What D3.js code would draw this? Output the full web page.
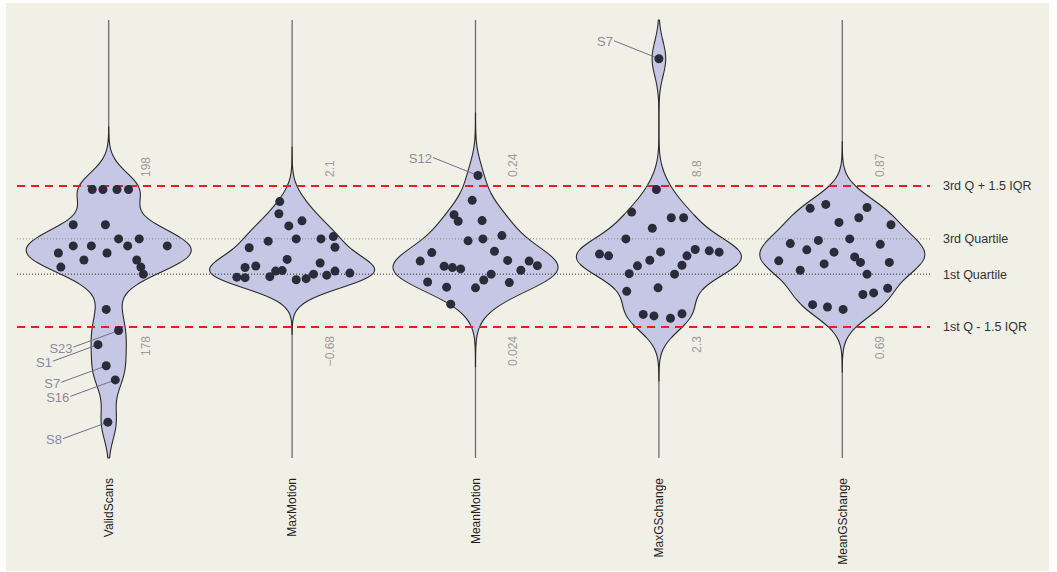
<!DOCTYPE html>
<html>
<head>
<meta charset="utf-8">
<script src="https://cdn.jsdelivr.net/npm/d3@7"></script>
<style>
  html, body { margin: 0; padding: 0; background: #ffffff; }
  svg { display: block; font-family: "Liberation Sans", Arial, sans-serif; }
</style>
</head>
<body>
<svg id="chart" width="1057" height="572"></svg>
<script>
// Subjects S1..S25; each metric array is indexed by subject.
const subjects = d3.range(1, 26).map(i => "S" + i);

const variables = ["ValidScans", "MaxMotion", "MeanMotion", "MaxGSchange", "MeanGSchange"];

const validScans = [175, 197, 192, 189, 188, 190, 172, 164, 197, 187, 189, 186, 197,
                    192, 190, 170, 189, 188, 197, 187, 189, 186, 177, 185, 180];
const maxMotion = [1.79, 1.55, 1.41, 1.31, 1.01, 1.055, 1.055, 1.10, 0.88, 0.89, 0.65, 0.58, 0.49,
                   0.52, 0.42, 0.43, 0.30, 0.29, 0.31, 0.25, 0.27, 0.36, 0.34, 0.42, 0.38];
const meanMotion = [0.117, 0.218, 0.196, 0.186, 0.187, 0.156, 0.159, 0.164, 0.138, 0.140, 0.125, 0.256, 0.115,
                    0.113, 0.126, 0.125, 0.118, 0.111, 0.105, 0.096, 0.093, 0.085, 0.084, 0.092, 0.059];
const maxGSchange = [6.36, 8.63, 7.59, 7.33, 7.33, 6.85, 14.64, 5.66, 5.58, 5.76, 5.87, 5.81, 5.75,
                     5.58, 5.38, 5.12, 5.15, 4.76, 4.74, 4.11, 3.95, 2.89, 2.82, 2.71, 2.92];
const meanGSchange = [0.841, 0.846, 0.842, 0.829, 0.823, 0.820, 0.800, 0.802, 0.796, 0.795, 0.788, 0.785, 0.774,
                      0.779, 0.772, 0.772, 0.770, 0.762, 0.757, 0.739, 0.733, 0.731, 0.718, 0.715, 0.712];

// Horizontal jitter of each dot, as a fraction of the violin half-width.
const validScansJitter = [-0.13, -0.20, -0.43, -0.43, -0.61, 0.12, -0.03, -0.01, -0.07, -0.30, -0.21, -0.58, 0.10,
                          -0.04, 0.37, 0.08, 0.23, -0.02, 0.24, 0.34, 0.71, 0.39, 0.12, 0.42, -0.03];
const maxMotionJitter = [-0.15, -0.16, 0.12, -0.04, -0.29, 0.05, 0.35, 0.50, -0.52, 0.52, -0.06, 0.34, -0.57,
                         -0.44, -0.20, -0.12, -0.67, -0.57, -0.27, 0.05, 0.17, 0.26, 0.42, 0.52, 0.70];
const meanMotionJitter = [-0.38, -0.04, -0.26, -0.21, 0.08, -0.09, 0.09, 0.32, -0.53, 0.23, -0.67, 0.03, -0.28,
                          -0.18, 0.39, 0.65, 0.75, 0.55, 0.19, 0.10, -0.58, -0.35, 0.00, 0.41, -0.30];
const maxGSchangeJitter = [-0.40, -0.03, -0.33, 0.15, 0.30, -0.08, 0.00, -0.72, -0.61, 0.02, 0.44, 0.61, 0.73,
                           0.34, -0.11, -0.26, 0.28, -0.36, 0.19, -0.01, -0.39, -0.19, -0.06, 0.14, 0.28];
const meanGSchangeJitter = [-0.39, -0.20, 0.30, 0.20, -0.04, 0.59, -0.29, 0.09, -0.63, 0.46, -0.43, -0.10, -0.77,
                            0.15, 0.22, 0.57, -0.22, -0.51, 0.30, 0.55, 0.38, 0.25, -0.36, -0.18, 0.01];

const seriesValues = [validScans, maxMotion, meanMotion, maxGSchange, meanGSchange];
const seriesJitter = [validScansJitter, maxMotionJitter, meanMotionJitter, maxGSchangeJitter, meanGSchangeJitter];

const legendLabels = ["3rd Q + 1.5 IQR", "3rd Quartile", "1st Quartile", "1st Q - 1.5 IQR"];

// ---- layout ----
const plotTop = 20, plotBottom = 458;
const fenceHiY = 186, fenceLoY = 327;     // every metric is rescaled so its fences land here
const lineX0 = 17, lineX1 = 930;
const halfWidth = 82.5;
const bwAdjust = 1.4;                     // smoothing factor on Silverman's bandwidth
const cut = 3.6;                          // density tails extend this many bandwidths

const svg = d3.select("#chart");

svg.append("rect")
  .attr("x", 6).attr("y", 3)
  .attr("width", 1043).attr("height", 568)
  .attr("fill", "#f1f0e6");

const x = d3.scalePoint().domain(variables).range([108.7, 842.3]);

// Per-metric statistics and scales
const fmt = v => Math.abs(v) >= 100 ? d3.format(".0f")(v) : d3.format(".2r")(v);

const stats = variables.map((name, i) => {
  const vals = seriesValues[i];
  const sorted = vals.slice().sort(d3.ascending);
  const q1 = d3.quantile(sorted, 0.25);
  const q3 = d3.quantile(sorted, 0.75);
  const iqr = q3 - q1;
  const lo = q1 - 1.5 * iqr, hi = q3 + 1.5 * iqr;
  const y = d3.scaleLinear().domain([lo, hi]).range([fenceLoY, fenceHiY]);
  return { name, vals, jitter: seriesJitter[i], q1, q3, iqr, lo, hi, y };
});

const q3Y = stats[0].y(stats[0].q3);
const q1Y = stats[0].y(stats[0].q1);

// ---- axis lines ----
svg.append("g").selectAll("line")
  .data(variables).join("line")
  .attr("x1", d => x(d)).attr("x2", d => x(d))
  .attr("y1", plotTop).attr("y2", plotBottom)
  .attr("stroke", "#6c6c6c").attr("stroke-width", 1.3);

// ---- violins (gaussian KDE) ----
const violinG = svg.append("g");
stats.forEach(s => {
  const px = s.vals.map(v => s.y(v));
  const n = px.length;
  const iqrPx = Math.abs(s.y(s.q1) - s.y(s.q3));
  const bw = bwAdjust * 0.9 * Math.min(d3.deviation(px), iqrPx / 1.34) * Math.pow(n, -0.2);
  const yMin = Math.max(plotTop, d3.min(px) - cut * bw);
  const yMax = Math.min(plotBottom, d3.max(px) + cut * bw);
  const grid = d3.range(yMin, yMax, 0.5).concat([yMax]);
  const dens = grid.map(g => [g, d3.sum(px, p => Math.exp(-0.5 * ((g - p) / bw) ** 2))]);
  const maxD = d3.max(dens, d => d[1]);
  const w = d3.scaleLinear().domain([0, maxD]).range([0, halfWidth]);
  const cx = x(s.name);
  const area = d3.area()
    .y(d => d[0])
    .x0(d => cx - w(d[1]))
    .x1(d => cx + w(d[1]))
    .curve(d3.curveLinear);
  violinG.append("path")
    .datum(dens)
    .attr("d", area)
    .attr("fill", "#c6c7e5")
    .attr("stroke", "#2a2a2a")
    .attr("stroke-width", 1.1)
    .attr("stroke-linejoin", "round");
});

// ---- reference lines ----
const refLines = [
  { y: fenceHiY, dash: "8,6", color: "#ee1c1c", width: 2 },
  { y: q3Y, dash: "1,2", color: "#8a8a8a", width: 1 },
  { y: q1Y, dash: "1,2", color: "#2a2a2a", width: 1 },
  { y: fenceLoY, dash: "8,6", color: "#ee1c1c", width: 2 }
];
const refG = svg.append("g");
refG.selectAll("line").data(refLines).join("line")
  .attr("x1", lineX0).attr("x2", lineX1)
  .attr("y1", d => d.y).attr("y2", d => d.y)
  .attr("stroke", d => d.color)
  .attr("stroke-width", d => d.width)
  .attr("stroke-dasharray", d => d.dash);

refG.selectAll("text").data(refLines).join("text")
  .attr("x", 943).attr("y", d => d.y)
  .attr("dy", "0.35em")
  .attr("font-size", 12.5)
  .attr("fill", "#333333")
  .text((d, i) => legendLabels[i]);

// ---- outlier labels with leader lines, then the dots ----
const labelG = svg.append("g");
const dotG = svg.append("g");
stats.forEach(s => {
  const cx = x(s.name);
  s.vals.forEach((v, j) => {
    const px = cx + s.jitter[j] * halfWidth;
    const py = s.y(v);
    if (v > s.hi || v < s.lo) {
      const above = v > s.hi;
      const ly = py + (above ? -17 : 17.5);
      const tx = px - 46;
      labelG.append("line")
        .attr("x1", tx + 1).attr("y1", ly - 1)
        .attr("x2", px).attr("y2", py)
        .attr("stroke", "#6f7089").attr("stroke-width", 1);
      labelG.append("text")
        .attr("x", tx).attr("y", ly)
        .attr("dy", "0.35em")
        .attr("text-anchor", "end")
        .attr("font-size", 13)
        .attr("fill", "#8b8b9d")
        .text(subjects[j]);
    }
    dotG.append("circle")
      .attr("cx", px).attr("cy", py).attr("r", 4.5)
      .attr("fill", "#2c2b3a");
  });
});

// ---- fence value labels ----
const valG = svg.append("g");
stats.forEach(s => {
  const cx = x(s.name) + 37.5;
  valG.append("text")
    .attr("transform", `translate(${cx},${fenceHiY - 9}) rotate(-90)`)
    .attr("dy", "0.35em")
    .attr("text-anchor", "start")
    .attr("font-size", 12)
    .attr("fill", "#9c9c9c")
    .text(fmt(s.hi));
  valG.append("text")
    .attr("transform", `translate(${cx},${fenceLoY + 9}) rotate(-90)`)
    .attr("dy", "0.35em")
    .attr("text-anchor", "end")
    .attr("font-size", 12)
    .attr("fill", "#9c9c9c")
    .text(fmt(s.lo));
});

// ---- category labels ----
svg.append("g").selectAll("text")
  .data(variables).join("text")
  .attr("transform", d => `translate(${x(d)},478) rotate(-90)`)
  .attr("dy", "0.35em")
  .attr("text-anchor", "end")
  .attr("font-size", 12)
  .attr("fill", "#1e1e1e")
  .text(d => d);
</script>
</body>
</html>
